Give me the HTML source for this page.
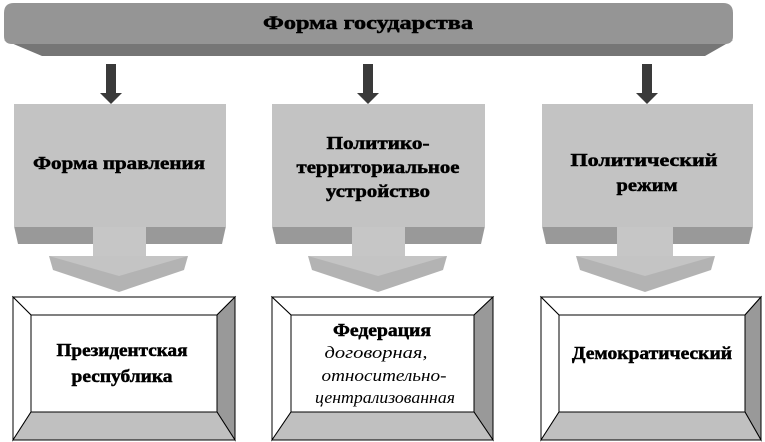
<!DOCTYPE html>
<html><head><meta charset="utf-8"><style>
html,body{margin:0;padding:0;background:#fff;}
svg{display:block;}
text{font-family:"Liberation Serif","Times New Roman",serif;font-weight:bold;font-size:18px;fill:#000;stroke:#000;stroke-width:0.5;text-anchor:middle;}
.i{font-style:italic;font-weight:normal;stroke:none;font-size:17px;}
</style></head><body>
<svg width="765" height="442" viewBox="0 0 765 442" xmlns="http://www.w3.org/2000/svg" font-family="Liberation Serif, serif">
<polygon points="4,40 733,40 705,56 42,56" fill="#767676"/>
<path d="M14,3 H723 Q733,3 733,13 V36 Q733,44 725,44 H12 Q4,44 4,36 V13 Q4,3 14,3 Z" fill="#959595"/>
<text x="368" y="29" style="font-size:19px" textLength="210" lengthAdjust="spacingAndGlyphs">Форма государства</text>

<g fill="#3a3a3a">
<rect x="106" y="64" width="10" height="30"/><polygon points="100,93 122,93 111,104"/>
<rect x="363" y="64" width="10" height="30"/><polygon points="357,93 379,93 368,104"/>
<rect x="642" y="64" width="10" height="30"/><polygon points="636,93 658,93 647,104"/>
</g>

<polygon points="14,226 226,226 222,244 18,244" fill="#999"/>
<rect x="14" y="104" width="212" height="123" fill="#c3c3c3"/>
<rect x="93" y="227" width="53" height="30" fill="#c6c6c6"/>
<polygon points="49,256 188,256 184,270 119,292 53,270" fill="#b3b3b3"/>
<polygon points="49,256 188,256 119,276" fill="#c4c4c4"/>
<text x="119" y="169" textLength="172" lengthAdjust="spacingAndGlyphs">Форма правления</text>

<polygon points="272,226 485,226 481,244 276,244" fill="#999"/>
<rect x="272" y="104" width="213" height="123" fill="#c3c3c3"/>
<rect x="352" y="227" width="53" height="30" fill="#c6c6c6"/>
<polygon points="308,256 447,256 443,270 378,292 312,270" fill="#b3b3b3"/>
<polygon points="308,256 447,256 378,276" fill="#c4c4c4"/>
<text x="378" y="149" textLength="103" lengthAdjust="spacingAndGlyphs">Политико-</text>
<text x="378" y="173" textLength="163" lengthAdjust="spacingAndGlyphs">территориальное</text>
<text x="378" y="197" textLength="104" lengthAdjust="spacingAndGlyphs">устройство</text>

<polygon points="542,226 753,226 749,244 546,244" fill="#999"/>
<rect x="542" y="104" width="211" height="123" fill="#c3c3c3"/>
<rect x="617" y="227" width="56" height="30" fill="#c6c6c6"/>
<polygon points="576,256 715,256 711,270 645,292 580,270" fill="#b3b3b3"/>
<polygon points="576,256 715,256 645,276" fill="#c4c4c4"/>
<text x="644" y="166" textLength="147" lengthAdjust="spacingAndGlyphs">Политический</text>
<text x="647" y="191" textLength="61" lengthAdjust="spacingAndGlyphs">режим</text>

<g stroke="#000" stroke-width="1">
<polygon points="13,297 235,297 217,315 31,315" fill="#fff"/>
<polygon points="13,297 31,315 31,412 13,440" fill="#fff"/>
<polygon points="235,297 235,440 217,412 217,315" fill="#999"/>
<polygon points="13,440 235,440 217,412 31,412" fill="#c0c0c0"/>
<rect x="31" y="315" width="186" height="97" fill="#fff"/>
<polygon points="272,297 493,297 474,315 291,315" fill="#fff"/>
<polygon points="272,297 291,315 291,412 272,440" fill="#fff"/>
<polygon points="493,297 493,440 474,412 474,315" fill="#999"/>
<polygon points="272,440 493,440 474,412 291,412" fill="#c0c0c0"/>
<rect x="291" y="315" width="183" height="97" fill="#fff"/>
<polygon points="541,297 761,297 745,315 559,315" fill="#fff"/>
<polygon points="541,297 559,315 559,412 541,440" fill="#fff"/>
<polygon points="761,297 761,440 745,412 745,315" fill="#999"/>
<polygon points="541,440 761,440 745,412 559,412" fill="#c0c0c0"/>
<rect x="559" y="315" width="186" height="97" fill="#fff"/>
</g>
<text x="122" y="356" textLength="131" lengthAdjust="spacingAndGlyphs">Президентская</text>
<text x="122" y="382" textLength="101" lengthAdjust="spacingAndGlyphs">республика</text>
<text x="382" y="336" textLength="98" lengthAdjust="spacingAndGlyphs">Федерация</text>
<text class="i" x="376" y="358" textLength="103" lengthAdjust="spacingAndGlyphs">договорная,</text>
<text class="i" x="384" y="381" textLength="125" lengthAdjust="spacingAndGlyphs">относительно-</text>
<text class="i" x="385" y="403" textLength="140" lengthAdjust="spacingAndGlyphs">централизованная</text>
<text x="652" y="359" textLength="160" lengthAdjust="spacingAndGlyphs">Демократический</text>
</svg>
</body></html>
